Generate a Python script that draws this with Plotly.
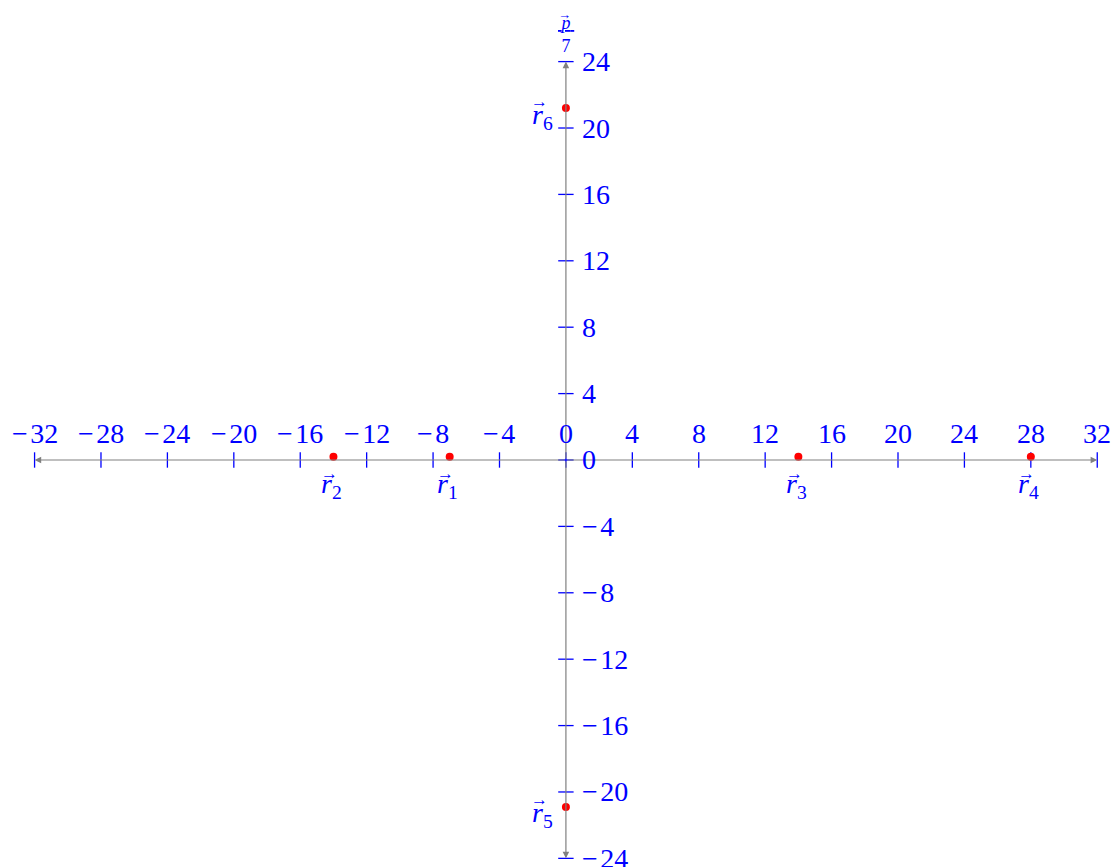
"""Points on a p/7 vs v/7 plane, drawn in the style of a pgfplots axis"""

import plotly.graph_objects as go

# data
point_names = ["1", "2", "3", "4", "5", "6"]
point_x = [-7, -14, 14, 28, 0, 0]
point_y = [0.2, 0.2, 0.2, 0.2, -20.9, 21.2]

x_ticks = [-32, -28, -24, -20, -16, -12, -8, -4, 0, 4, 8, 12, 16, 20, 24, 28, 32]
y_ticks = [-24, -20, -16, -12, -8, -4, 0, 4, 8, 12, 16, 20, 24]

BLUE = "#0000ff"
GRAY = "#808080"
FONT = "Liberation Serif"


def fmt(v):
    # TeX-like minus with a hair space after it
    return f"\u2212\u200a{abs(v)}" if v < 0 else str(v)


fig = go.Figure()

# tick marks
fig.add_trace(go.Scatter(
    x=x_ticks, y=[0] * len(x_ticks), mode="markers",
    marker=dict(symbol="line-ns", size=11, line=dict(color=BLUE, width=1.3)),
    hoverinfo="skip",
))
fig.add_trace(go.Scatter(
    x=[0] * len(y_ticks), y=y_ticks, mode="markers",
    marker=dict(symbol="line-ew", size=11, line=dict(color=BLUE, width=1.3)),
    hoverinfo="skip",
))

# the red points
fig.add_trace(go.Scatter(
    x=point_x, y=point_y, mode="markers",
    marker=dict(color="#ff0000", size=8),
    hoverinfo="skip",
))

annotations = []

# axis lines with arrow heads at both ends
for ex, ey in [(x_ticks[-1], 0), (x_ticks[0], 0), (0, y_ticks[-1]), (0, y_ticks[0])]:
    annotations.append(dict(
        x=ex, y=ey, ax=0, ay=0, xref="x", yref="y", axref="x", ayref="y",
        text="", showarrow=True, arrowhead=2, arrowsize=1.1, arrowwidth=1.2,
        arrowcolor=GRAY, standoff=0, startstandoff=0,
    ))

# tick labels
for t in x_ticks:
    annotations.append(dict(
        x=t, y=0, text=fmt(t), showarrow=False, yanchor="bottom", yshift=9,
        font=dict(family=FONT, size=28, color=BLUE),
    ))
for t in y_ticks:
    annotations.append(dict(
        x=0, y=t, text=fmt(t), showarrow=False, xanchor="left", xshift=14,
        font=dict(family=FONT, size=28, color=BLUE),
    ))

# point labels, vector arrow drawn as its own small glyph over the r
for name, px_, py_ in zip(point_names, point_x, point_y):
    label = f"<i>r</i><sub>{name}</sub>"
    if px_ == 0:
        annotations.append(dict(
            x=px_, y=py_, text=label, showarrow=False, xanchor="right",
            xshift=-11, yshift=-8, font=dict(family=FONT, size=28, color=BLUE),
        ))
        annotations.append(dict(
            x=px_, y=py_, text="\u2192", showarrow=False, xshift=-26, yshift=7,
            font=dict(family=FONT, size=17, color=BLUE),
        ))
    else:
        annotations.append(dict(
            x=px_, y=py_, text=label, showarrow=False, yanchor="top", yshift=-9,
            xshift=-2, font=dict(family=FONT, size=28, color=BLUE),
        ))
        annotations.append(dict(
            x=px_, y=py_, text="\u2192", showarrow=False, xshift=-4, yshift=-17,
            font=dict(family=FONT, size=17, color=BLUE),
        ))

# axis titles (fractions v/7 and p/7)
annotations.append(dict(
    x=0, y=y_ticks[-1], text="<u>\u2009<i>p</i>\u2009</u><br>7", showarrow=False,
    yanchor="bottom", yshift=4, font=dict(family=FONT, size=18, color=BLUE),
))
annotations.append(dict(
    x=0, y=y_ticks[-1], text="\u2192", showarrow=False, xshift=-1, yshift=47,
    font=dict(family=FONT, size=13, color=BLUE),
))
annotations.append(dict(
    x=x_ticks[-1], y=0, text="<u>\u2009<i>v</i>\u2009</u><br>7", showarrow=False,
    xanchor="left", xshift=12, font=dict(family=FONT, size=18, color=BLUE),
))
annotations.append(dict(
    x=x_ticks[-1], y=0, text="\u2192", showarrow=False, xshift=21, yshift=17,
    font=dict(family=FONT, size=13, color=BLUE),
))

# figure is a little smaller than the window: the page body adds 8px
fig.update_layout(
    width=1111, height=859,
    margin=dict(l=0, r=0, t=0, b=0),
    plot_bgcolor="white", paper_bgcolor="white",
    showlegend=False,
    annotations=annotations,
)
fig.update_xaxes(range=[-33.60, 33.31], visible=False)
fig.update_yaxes(range=[-24.52, 27.23], visible=False)

fig.write_html("out.html")
